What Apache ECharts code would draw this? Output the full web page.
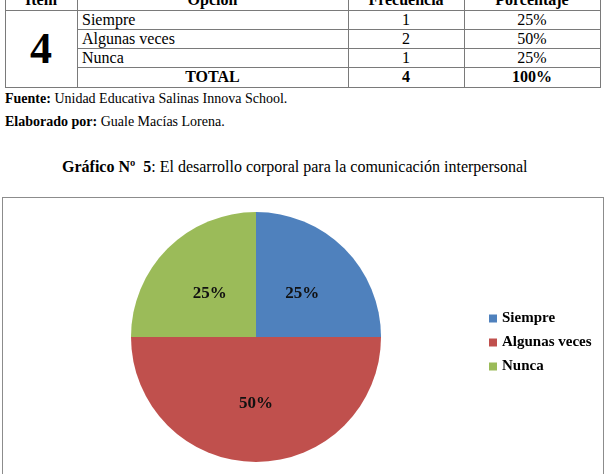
<!DOCTYPE html>
<html>
<head>
<meta charset="utf-8">
<script src="https://cdn.jsdelivr.net/npm/echarts@6/dist/echarts.min.js"></script>
<style>
  html, body { margin: 0; padding: 0; background: #fff; }
  body { width: 606px; height: 474px; overflow: hidden; position: relative; font-family: "Liberation Serif", "Times New Roman", serif; color: #000; }
  .cell { position: absolute; box-sizing: border-box; display: flex; align-items: center; font-size: 16px; }
  .line { position: absolute; background: #7a7a7a; }
  .txt { position: absolute; white-space: nowrap; }
  #chartBox { position: absolute; left: 2px; top: 197px; width: 602px; height: 300px; border: 1px solid #8c8c8c; box-sizing: border-box; }
  #chart { width: 600px; height: 298px; }
</style>
</head>
<body>
<div id="table"></div>
<div class="txt" style="left:5px; top:91px; font-size:14px;"><b>Fuente:</b> Unidad Educativa Salinas Innova School.</div>
<div class="txt" style="left:5px; top:114px; font-size:14px;"><b>Elaborado por:</b> Guale Macías Lorena.</div>
<div class="txt" style="left:62px; top:158px; font-size:16px;"><b>Gráfico Nº&nbsp; 5</b>: El desarrollo corporal para la comunicación interpersonal</div>
<div id="chartBox"><div id="chart"></div></div>
<script>
const headers = ['Item', 'Opción', 'Frecuencia', 'Porcentaje'];
const itemNumber = '4';
const categories = ['Siempre', 'Algunas veces', 'Nunca'];
const frequencies = [1, 2, 1];
const percentages = ['25%', '50%', '25%'];
const totalLabel = 'TOTAL';
const totalFrequency = 4;
const totalPercentage = '100%';

// table layout
const colX = [5, 77, 348, 464, 600];
const rowY = [-10, 10, 29, 48, 67, 87];
const t = document.getElementById('table');
function cell(x0, x1, y0, y1, html, opts) {
  const d = document.createElement('div');
  d.className = 'cell';
  d.style.left = x0 + 'px'; d.style.top = y0 + 'px';
  d.style.width = (x1 - x0) + 'px'; d.style.height = (y1 - y0) + 'px';
  d.style.justifyContent = opts.align || 'center';
  if (opts.pad) d.style.paddingLeft = opts.pad + 'px';
  if (opts.bold) d.style.fontWeight = 'bold';
  if (opts.size) d.style.fontSize = opts.size + 'px';
  d.innerHTML = html;
  t.appendChild(d);
}
function hline(x0, x1, y) { const d = document.createElement('div'); d.className = 'line'; d.style.left = x0 + 'px'; d.style.top = y + 'px'; d.style.width = (x1 - x0 + 1) + 'px'; d.style.height = '1px'; t.appendChild(d); }
function vline(x, y0, y1) { const d = document.createElement('div'); d.className = 'line'; d.style.left = x + 'px'; d.style.top = y0 + 'px'; d.style.width = '1px'; d.style.height = (y1 - y0 + 1) + 'px'; t.appendChild(d); }

headers.forEach((h, i) => cell(colX[i], colX[i + 1], rowY[0], rowY[1], h, { bold: true }));
cell(colX[0], colX[1], rowY[1], rowY[5], itemNumber, { bold: true, size: 44 });
categories.forEach((c, i) => {
  cell(colX[1], colX[2], rowY[i + 1], rowY[i + 2], c, { align: 'flex-start', pad: 5 });
  cell(colX[2], colX[3], rowY[i + 1], rowY[i + 2], String(frequencies[i]), {});
  cell(colX[3], colX[4], rowY[i + 1], rowY[i + 2], percentages[i], {});
});
cell(colX[1], colX[2], rowY[4], rowY[5], totalLabel, { bold: true });
cell(colX[2], colX[3], rowY[4], rowY[5], String(totalFrequency), { bold: true });
cell(colX[3], colX[4], rowY[4], rowY[5], totalPercentage, { bold: true });

hline(colX[0], colX[4], rowY[1]);
for (let r = 2; r <= 4; r++) hline(colX[1], colX[4], rowY[r]);
hline(colX[0], colX[4], rowY[5]);
colX.forEach(x => vline(x, 0, rowY[5]));

// chart
const colors = ['#4F81BD', '#C0504D', '#9BBB59'];
const chart = echarts.init(document.getElementById('chart'), null, { renderer: 'canvas' });
const labelFont = { fontFamily: 'Liberation Serif', fontWeight: 'bold', fontSize: 17, color: '#111' };
chart.setOption({
  animation: false,
  color: colors,
  legend: {
    orient: 'vertical',
    left: 481,
    top: 108,
    icon: 'rect',
    itemWidth: 8,
    itemHeight: 8,
    itemGap: 9,
    textStyle: { fontFamily: 'Liberation Serif', fontWeight: 'bold', fontSize: 15, color: '#000', lineHeight: 15 },
    data: categories
  },
  series: [{
    type: 'pie',
    center: [253, 139],
    radius: 125,
    startAngle: 90,
    clockwise: true,
    silent: true,
    label: Object.assign({ position: 'inside', formatter: '{d}%' }, labelFont),
    labelLine: { show: false },
    labelLayout: function (params) {
      return params.dataIndex === 1 ? { dy: 1 } : { dy: 3 };
    },
    data: categories.map((c, i) => ({ name: c, value: frequencies[i] }))
  }]
});
</script>
</body>
</html>
